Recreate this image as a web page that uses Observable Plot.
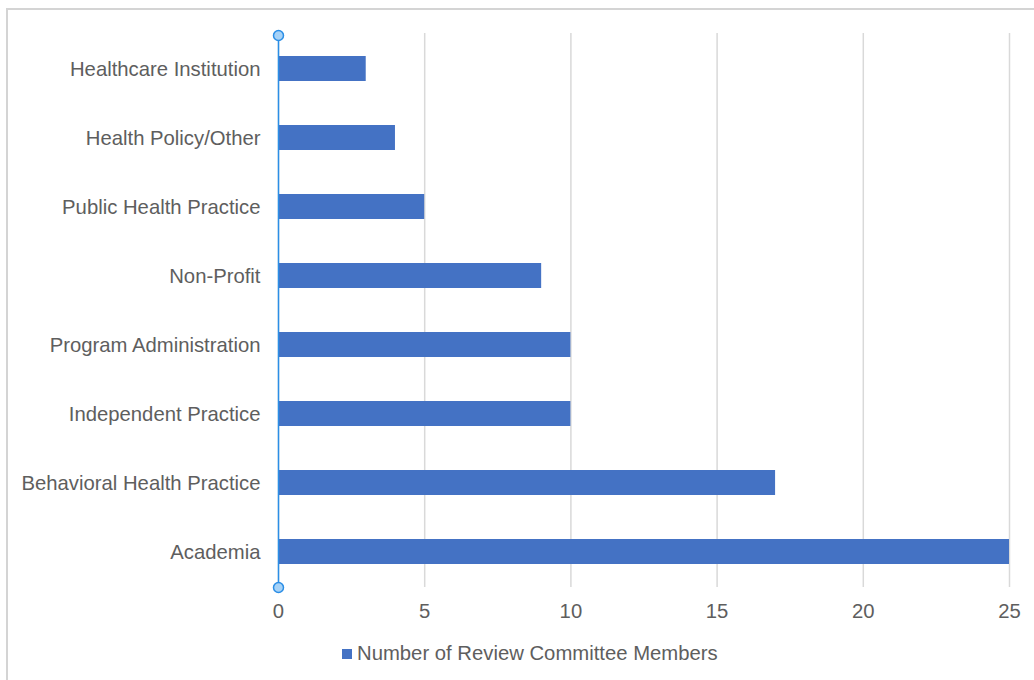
<!DOCTYPE html>
<html>
<head>
<meta charset="utf-8">
<script src="https://cdn.jsdelivr.net/npm/d3@7"></script>
<script src="https://cdn.jsdelivr.net/npm/@observablehq/plot@0.6"></script>
<style>
  html, body { margin: 0; padding: 0; background: #fff; overflow: hidden; width: 1034px; height: 680px; }
  #wrap { position: relative; width: 1034px; height: 680px; font-family: "Liberation Sans", Arial, sans-serif; }
  #frame { position: absolute; left: 6px; top: 8px; width: 1100px; height: 800px; border: 2px solid #d4d4d4; box-sizing: border-box; }
  #chart { position: absolute; left: 0; top: 0; }
  #legend { position: absolute; left: 342px; top: 642px; font-size: 20.3px; color: #5e5e5e; display: flex; align-items: center; white-space: nowrap; }
  #legend .sw { width: 10px; height: 10px; background: #4472C4; margin-right: 5px; }
</style>
</head>
<body>
<div id="wrap">
  <div id="frame"></div>
  <div id="chart"></div>
  <div id="legend"><span class="sw"></span><span id="legendText"></span></div>
</div>
<script>
const categories = [
  "Healthcare Institution",
  "Health Policy/Other",
  "Public Health Practice",
  "Non-Profit",
  "Program Administration",
  "Independent Practice",
  "Behavioral Health Practice",
  "Academia"
];
const members = [3, 4, 5, 9, 10, 10, 17, 25];
const xTicks = [0, 5, 10, 15, 20, 25];
const seriesName = "Number of Review Committee Members";

const data = categories.map((c, i) => ({category: c, value: members[i]}));

const chart = Plot.plot({
  width: 1034,
  height: 640,
  marginLeft: 278,
  marginRight: 25,
  marginTop: 33,
  marginBottom: 53,
  style: {fontFamily: "'Liberation Sans', Arial, sans-serif", fontSize: "20.3px", color: "#5e5e5e", background: "transparent"},
  x: {domain: [0, 25], ticks: xTicks},
  y: {domain: categories, paddingInner: 0.64, paddingOuter: 0.32},
  marks: [
    Plot.gridX(xTicks, {stroke: "#d9d9d9", strokeOpacity: 1, strokeWidth: 1.5}),
    Plot.barX(data, {x: "value", y: "category", fill: "#4472C4"}),
    Plot.axisX({ticks: xTicks, tickSize: 0, tickPadding: 16, label: null, fill: "#5e5e5e"}),
    Plot.axisY({tickSize: 0, tickPadding: 18, label: null, fill: "#5e5e5e"}),
    Plot.ruleX([0], {stroke: "#2b8ee6", strokeWidth: 1.5}),
    Plot.dot([0], {x: d => d, frameAnchor: "top", r: 5, fill: "#a6d2f7", stroke: "#2b8ee6", strokeWidth: 1.5, dy: 2}),
    Plot.dot([0], {x: d => d, frameAnchor: "bottom", r: 5, fill: "#a6d2f7", stroke: "#2b8ee6", strokeWidth: 1.5})
  ]
});
document.getElementById("chart").appendChild(chart);
document.getElementById("legendText").textContent = seriesName;
</script>
</body>
</html>
